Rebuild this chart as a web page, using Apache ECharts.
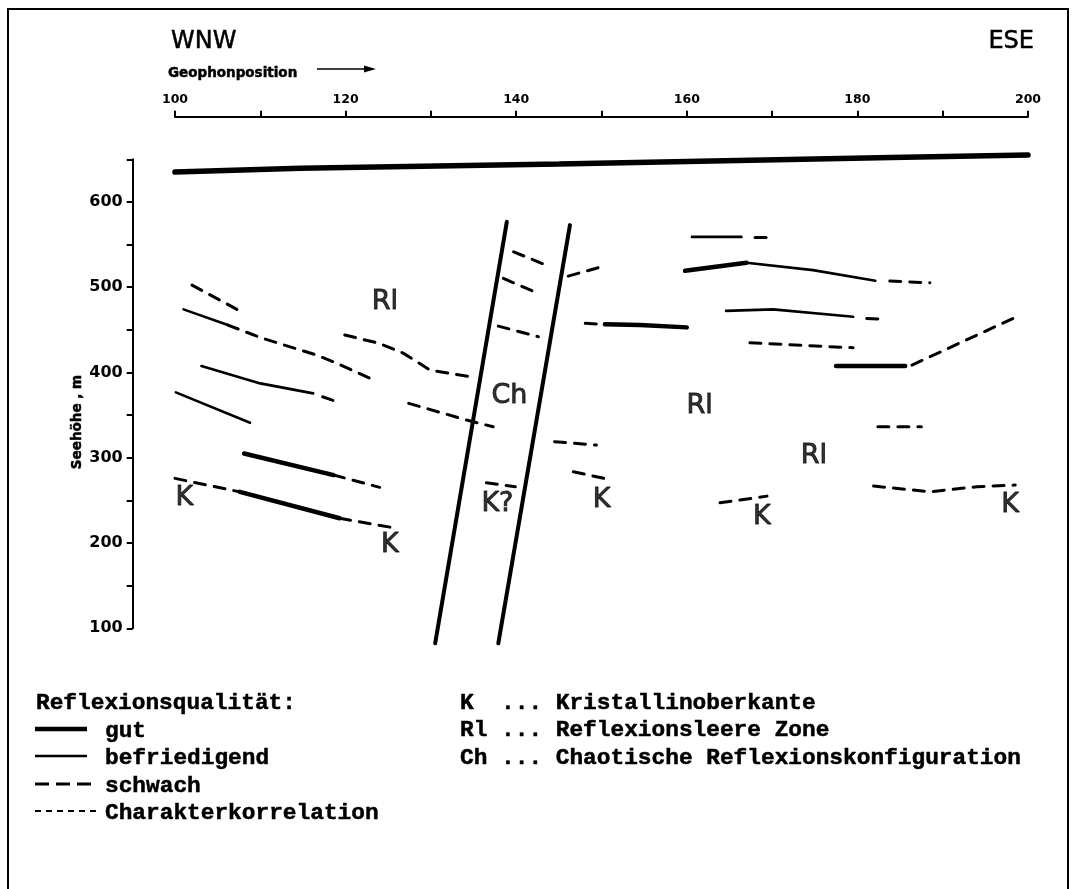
<!DOCTYPE html>
<html><head><meta charset="utf-8">
<script src="https://cdn.jsdelivr.net/npm/echarts@6/dist/echarts.min.js"></script>
<style>html,body{margin:0;padding:0;background:#fff}#c{width:1073px;height:889px}</style>
</head><body><div id="c"></div>
<script>
// ---- axes ----
const xTickLabels = [100, 120, 140, 160, 180, 200];
const yTickLabels = [100, 200, 300, 400, 500, 600];

// ---- reflector lines [Geophonposition, Seehöhe m] ----
const topSurface = [[100,635],[114.7,639.5],[145,644.5],[184,652],[200,655]];
const aDash   = [[102,502.5],[108,470]];
const bSolid  = [[101,474],[106.2,455.6]];
const bDash   = [[106.2,455.6],[110,441],[113.5,430],[116.6,420.4],[119,410.7],[122.9,393]];
const cDash   = [[119.9,444],[124,434],[126.8,422.4],[129.9,402.8],[134.6,395]];
const dSolid  = [[103.1,407.5],[110,387.2],[116.2,375.5]];
const dDash   = [[117.3,371.5],[119,365.7]];
const eSolid  = [[100.1,376.7],[108.8,341]];
const fGut    = [[108.1,305],[118.6,279.7]];
const fDash   = [[118.6,279.7],[124,265.3]];
const gDash1  = [[100,275.8],[107.6,260]];
const gGut    = [[107.6,260],[119.3,229]];
const gDash2  = [[119.3,229],[126,217.2]];
const hDash   = [[127.4,363.8],[134.2,344.2],[137.3,336.3]];
const fault1  = [[138.9,576.7],[130.5,82.4]];
const fault2  = [[146.3,572.8],[137.9,82.4]];
const i1Dash  = [[139.7,541.5],[143.8,524.7]];
const i2Dash  = [[138.5,510.3],[142.6,492.7]];
const i3Dash  = [[137.9,454.4],[142.6,441.9]];
const jDash   = [[146.1,513],[150,524]];
const lDash   = [[148.1,457.6],[150.4,456.5]];
const lGut    = [[150.4,456.5],[154.5,455.6],[160,452.9]];
const mDash   = [[144.5,318.8],[149.4,314.9]];
const nDash   = [[146.7,283.6],[150.8,274.7]];
const kqDash  = [[136.5,270.7],[139.9,266]];
const oSolid  = [[160.6,559],[166.4,559]];
const oDash   = [[168,558.4],[169.6,558.4]];
const pGut    = [[159.8,519.2],[167,528.6]];
const pSolid  = [[167,528.6],[174.8,520],[182.1,507.5]];
const pDash   = [[183.8,507.2],[188.5,505.2]];
const qGut    = [[164.6,472.3],[170.1,474],[179.5,465.3]];
const qDash   = [[181.1,463.4],[182.6,462.6]];
const rDash   = [[167.4,434.8],[179.5,429]];
const sGut    = [[177.5,407.5],[185.6,407.5]];
const sDash   = [[186.4,408.7],[198.5,464.6]];
const tDash   = [[182.4,336.3],[187.5,336.3]];
const uDash   = [[181.9,266.8],[188.5,260.1],[194,266],[198.5,268]];
const vDash   = [[163.9,247.2],[169.4,255]];

// ---- zone labels ----
const labelRl = [[124.6,482.9],[161.5,360.8],[174.9,302.2]];
const labelK  = [[101.1,252.4],[125.2,197.7],[150.0,250.4],[168.8,230.8],[197.9,244.5]];
const labelKq = [[137.8,245.7]];
const labelCh = [[139.2,372.7]];

// ---- legend texts ----
const legendTitle = 'Reflexionsqualität:';
const legendQuality = ['gut', 'befriedigend', 'schwach', 'Charakterkorrelation'];
const legendAbbr = ['K  ... Kristallinoberkante', 'Rl ... Reflexionsleere Zone', 'Ch ... Chaotische Reflexionskonfiguration'];

const INK = '#000';
const styles = {
  top:   {width: 5.5, color: INK, cap: 'round'},
  gut:   {width: 4.5, color: INK, cap: 'round'},
  befr:  {width: 2.6, color: INK, cap: 'round'},
  schw:  {width: 3, color: INK, type: [11, 9], cap: 'round'},
  fault: {width: 4, color: INK, cap: 'round'}
};

function line(data, st) {
  return {type: 'line', data: data, symbol: 'none', clip: false, silent: true,
          animation: false, lineStyle: styles[st], z: 3};
}

const series = [
  line(topSurface, 'top'),
  line(aDash, 'schw'), line(bSolid, 'befr'), line(bDash, 'schw'), line(cDash, 'schw'),
  line(dSolid, 'befr'), line(dDash, 'schw'), line(eSolid, 'befr'),
  line(fGut, 'gut'), line(fDash, 'schw'),
  line(gDash1, 'schw'), line(gGut, 'gut'), line(gDash2, 'schw'),
  line(hDash, 'schw'),
  line(fault1, 'fault'), line(fault2, 'fault'),
  line(i1Dash, 'schw'), line(i2Dash, 'schw'), line(i3Dash, 'schw'), line(jDash, 'schw'),
  line(lDash, 'schw'), line(lGut, 'gut'), line(mDash, 'schw'), line(nDash, 'schw'), line(kqDash, 'schw'),
  line(oSolid, 'befr'), line(oDash, 'schw'),
  line(pGut, 'gut'), line(pSolid, 'befr'), line(pDash, 'schw'),
  line(qGut, 'befr'), line(qDash, 'schw'), line(rDash, 'schw'),
  line(sGut, 'gut'), line(sDash, 'schw'), line(tDash, 'schw'), line(uDash, 'schw'), line(vDash, 'schw')
];

function labels(points, text) {
  return {type: 'scatter', data: points, symbolSize: 1, silent: true, animation: false,
          itemStyle: {color: 'rgba(0,0,0,0)'}, z: 4,
          label: {show: true, position: 'inside', formatter: text, color: INK,
                  fontFamily: 'DejaVu Sans', fontSize: 27,
                  textBorderColor: INK, textBorderWidth: 0.9}};
}
series.push(labels(labelRl, 'Rl'), labels(labelK, 'K'), labels(labelKq, 'K?'), labels(labelCh, 'Ch'));

const MONO = 'bold 22.8px "Liberation Mono", "DejaVu Sans Mono", monospace';
function txt(x, y, text, font, align, extra) {
  return Object.assign({type: 'text', x: x, y: y, silent: true,
    style: {text: text, font: font, fill: INK, stroke: INK, lineWidth: 0.5,
            textAlign: align, align: align, textVerticalAlign: 'middle', verticalAlign: 'middle'}}, extra || {});
}
const graphic = [
  {type: 'rect', shape: {x: 8, y: 9, width: 1060, height: 900}, style: {fill: 'none', stroke: INK, lineWidth: 2}, silent: true},
  txt(171, 42, 'WNW', '24px "DejaVu Sans"', 'left'),
  txt(1034, 42, 'ESE', '24px "DejaVu Sans"', 'right'),
  txt(168, 73, 'Geophonposition', 'bold 13.5px "DejaVu Sans"', 'left'),
  {type: 'line', shape: {x1: 317, y1: 69, x2: 368, y2: 69}, style: {stroke: INK, lineWidth: 1.6}},
  {type: 'polygon', shape: {points: [[376, 69], [364, 65.5], [364, 72.5]]}, style: {fill: INK}},
  txt(77, 422, 'Seehöhe , m', 'bold 13.5px "DejaVu Sans"', 'center', {rotation: Math.PI / 2}),
  txt(36, 703, legendTitle, MONO, 'left')
];
const rowY = [731, 758, 786, 813];
const sampleStyles = [
  {lineWidth: 4.5},
  {lineWidth: 2.6},
  {lineWidth: 3, lineDash: [14, 7]},
  {lineWidth: 2, lineDash: [6, 5]}
];
legendQuality.forEach(function (t, i) {
  const x2 = i < 2 ? 87 : 96;
  graphic.push({type: 'line', silent: true, shape: {x1: 35, y1: rowY[i] - 2, x2: x2, y2: rowY[i] - 2},
                style: Object.assign({stroke: INK}, sampleStyles[i])});
  graphic.push(txt(105, rowY[i], t, MONO, 'left'));
});
legendAbbr.forEach(function (t, i) {
  graphic.push(txt(460, 703 + i * 27.5, t, MONO, 'left'));
});

const chart = echarts.init(document.getElementById('c'), null, {renderer: 'canvas'});
chart.setOption({
  backgroundColor: '#fff',
  animation: false,
  grid: {left: 175, right: 45, top: 159.3, bottom: 260.7, containLabel: false},
  xAxis: {
    type: 'value', position: 'top', offset: 42.6, min: 100, max: 200, interval: 10,
    axisLine: {show: true, lineStyle: {color: INK, width: 2}},
    axisTick: {show: true, length: 6, lineStyle: {color: INK, width: 2}},
    splitLine: {show: false},
    axisLabel: {margin: 10, color: INK, fontFamily: 'DejaVu Sans', fontWeight: 'bold', fontSize: 12.5,
                formatter: function (v) { return xTickLabels.indexOf(v) >= 0 ? String(v) : ''; }}
  },
  yAxis: {
    type: 'value', position: 'left', offset: 42.3, min: 100, max: 650, interval: 50,
    axisLine: {show: true, lineStyle: {color: INK, width: 2}},
    axisTick: {show: true, length: 6, lineStyle: {color: INK, width: 2}},
    splitLine: {show: false},
    axisLabel: {margin: 10, color: INK, fontFamily: 'DejaVu Sans', fontWeight: 'bold', fontSize: 16,
                formatter: function (v) { return yTickLabels.indexOf(v) >= 0 ? String(v) : ''; }}
  },
  graphic: graphic,
  series: series
});
</script></body></html>
